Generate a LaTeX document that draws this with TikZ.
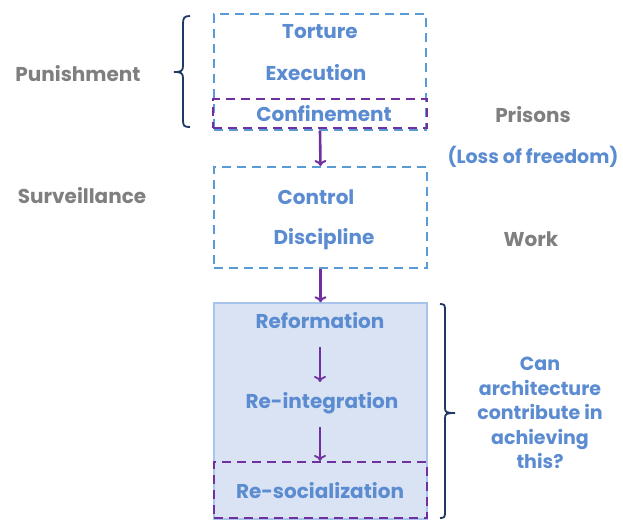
\documentclass[tikz,border=0pt]{standalone}
\usepackage{fontspec}
\setmainfont{Poppins}
\usetikzlibrary{arrows.meta}
\definecolor{txtblue}{HTML}{5B8BD0}
\definecolor{dashblue}{HTML}{5B9BD5}
\definecolor{boxpurple}{HTML}{7030A0}
\definecolor{txtgray}{HTML}{7F7F7F}
\definecolor{bracenavy}{HTML}{1F3864}
\definecolor{fillblue}{HTML}{DAE3F3}
\definecolor{edgeblue}{HTML}{A9C4EB}
\tikzset{
  lbl/.style={font=\bfseries\fontsize{20}{24}\selectfont, text=txtblue, inner sep=0pt},
  side/.style={font=\bfseries\fontsize{20}{24}\selectfont, text=txtgray, inner sep=0pt},
  bluebox/.style={draw=dashblue, line width=2pt, dash pattern=on 9pt off 6pt},
  purplebox/.style={draw=boxpurple, line width=2pt, dash pattern=on 9pt off 6pt},
  flow/.style={draw=boxpurple, line width=2.6pt, -{To[length=6pt,width=12pt,line width=2pt]}},
  innerflow/.style={draw=boxpurple, line width=2pt, -{To[length=6pt,width=12pt,line width=1.8pt]}},
  brace/.style={draw=bracenavy, line width=1.8pt},
}
\begin{document}
\begin{tikzpicture}[x=1pt,y=-1pt]
\useasboundingbox (0,0) rectangle (623,520);

% Filled reform box
\node[draw=edgeblue, line width=1.4pt, fill=fillblue, minimum width=213pt, minimum height=216pt, inner sep=0pt] (reform) at (320.5,411) {};

% Dashed frames
\node[bluebox, minimum width=212pt, minimum height=116pt, inner sep=0pt] (pun) at (320,72) {};
\node[purplebox, minimum width=214pt, minimum height=29pt, inner sep=0pt] (conf) at (320,113.5) {};
\node[bluebox, minimum width=213pt, minimum height=101pt, inner sep=0pt] (surv) at (320.5,217.5) {};
\node[purplebox, minimum width=213pt, minimum height=56pt, inner sep=0pt] (soc) at (320.5,490) {};

% Box texts
\node[lbl] (torture) at (320,32) {Torture};
\node[lbl] (execution) at (316,73) {Execution};
\node[lbl] (confinement) at (324,114) {Confinement};
\node[lbl] (control) at (316,197) {Control};
\node[lbl] (discipline) at (324,239) {Discipline};
\node[lbl] (reformation) at (320,321) {Reformation};
\node[lbl] (reintegration) at (322,403) {Re-integration};
\node[lbl] (resocial) at (320,491) {Re-socialization};

% Side texts
\node[side] (punishment) at (78,74) {Punishment};
\node[side] (surveillance) at (82,196) {Surveillance};
\node[side] (prisons) at (533,115) {Prisons};
\node[lbl, font=\bfseries\fontsize{19}{24}\selectfont] (loss) at (533,157) {(Loss of freedom)};
\node[side] (work) at (531,239) {Work};
\node[lbl, align=center, font=\bfseries\fontsize{19}{24.5}\selectfont] (question) at (540,413)
  {Can\\architecture\\contribute in\\achieving\\this?};

% Flow arrows
\draw[flow] (pun.south) -- (surv.north);
\draw[flow] (surv.south) -- (reform.north);
\coordinate (a1) at (320,347);
\coordinate (a2) at (320,382);
\coordinate (a3) at (320,427);
\coordinate (a4) at (320,461);
\draw[innerflow] (a1) -- (a2);
\draw[innerflow] (a3) -- (a4);

% Left brace
\draw[brace] (190,16) .. controls (184,16) and (183,18) .. (183,24)
  -- (183,66) .. controls (183,71) and (181,72) .. (174,72)
  .. controls (181,72) and (183,73) .. (183,78)
  -- (183,120) .. controls (183,126) and (184,127) .. (190,127);

% Right brace
\draw[brace] (440,304) .. controls (444,304) and (445,305) .. (445,309)
  -- (445,408) .. controls (445,412) and (446,413) .. (455,413)
  .. controls (446,413) and (445,414) .. (445,418)
  -- (445,513) .. controls (445,517) and (444,518) .. (440,518);
\end{tikzpicture}
\end{document}
